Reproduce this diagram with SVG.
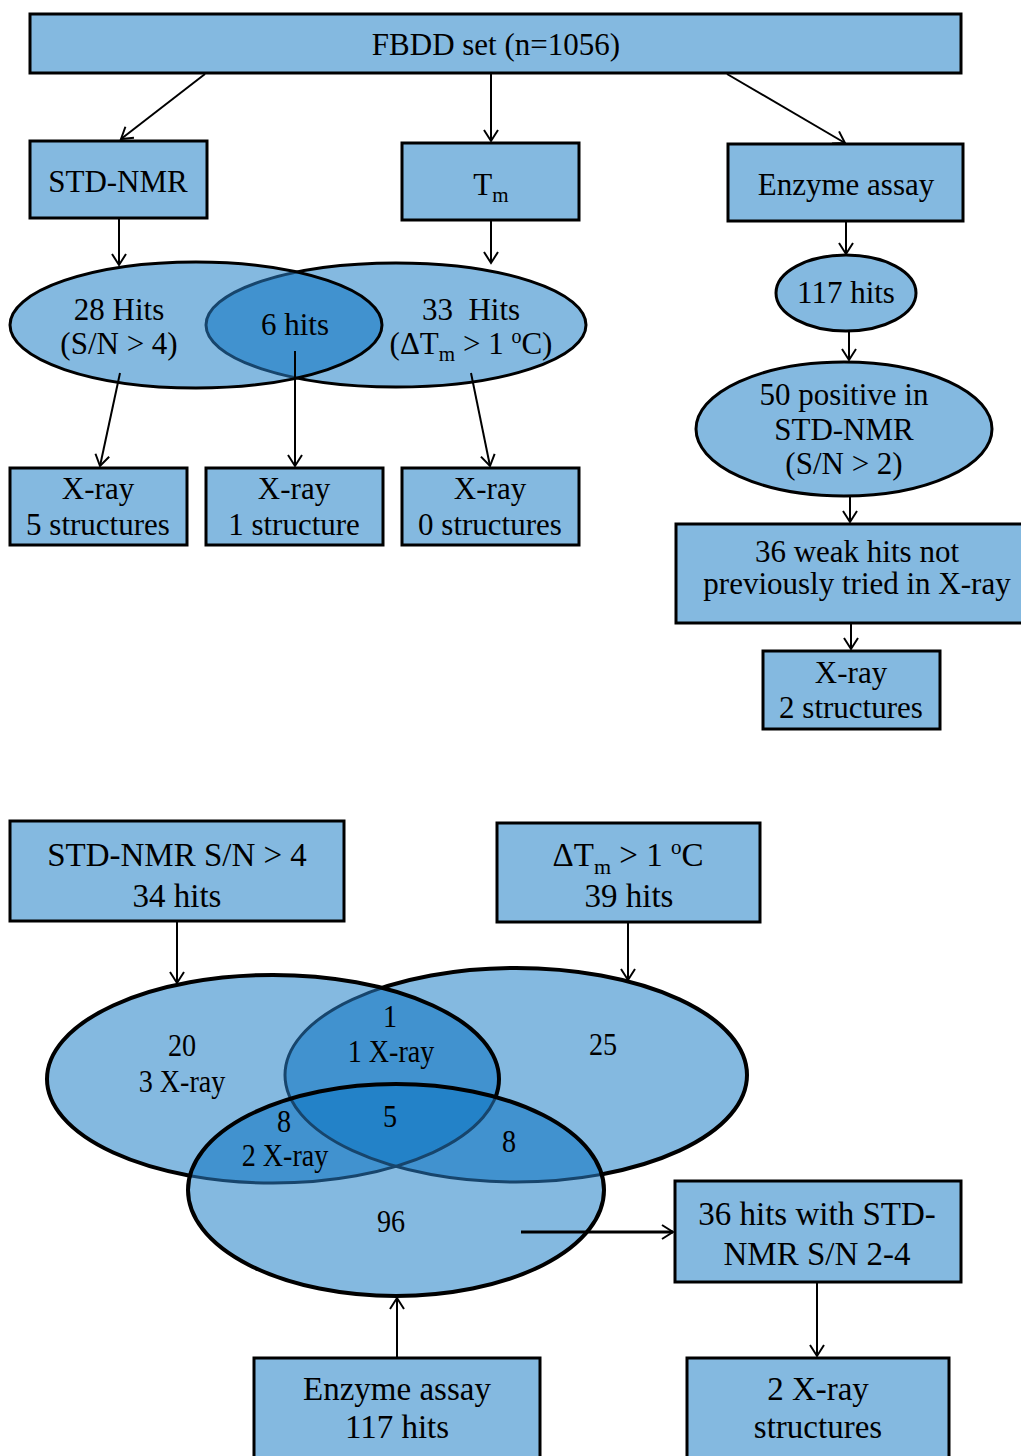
<svg xmlns="http://www.w3.org/2000/svg" width="1021" height="1456" viewBox="0 0 1021 1456" font-family="Liberation Serif, Times New Roman, DejaVu Serif, serif">
<style>
.box{fill:#84B9E0;stroke:#000;stroke-width:3}
.lt{fill:#84B9E0}
.md{fill:#4192CF}
.dk{fill:#2382C8}
.bk3{fill:none;stroke:#000;stroke-width:3}
.bk4{fill:none;stroke:#000;stroke-width:4}
.nv{fill:none;stroke:#17456C;stroke-width:3}
text{font-family:'Liberation Serif','Times New Roman','DejaVu Serif',serif}
.t{text-anchor:middle;fill:#000}
.s31{font-size:31px}
.s33{font-size:33px}
.s32{font-size:32px}
.con line{stroke:#000;stroke-width:2;marker-end:url(#ah)}
</style>
<defs>
<marker id="ah" markerUnits="userSpaceOnUse" markerWidth="18" markerHeight="18" refX="14" refY="8" orient="auto">
<path d="M3,1 L14,8 L3,15" fill="none" stroke="#000" stroke-width="2"/>
</marker>
<clipPath id="cTL"><ellipse cx="196" cy="325" rx="186" ry="63"/></clipPath>
<clipPath id="cBL"><ellipse cx="273" cy="1079" rx="226" ry="104"/></clipPath>
<clipPath id="cBB"><ellipse cx="396" cy="1190" rx="208" ry="106"/></clipPath>
</defs>

<!-- Top section nodes -->
<g id="fbdd">
<rect class="box" x="30" y="14" width="931" height="59"/>
<text class="t s31" x="496" y="55">FBDD set (n=1056)</text>
</g>
<g id="std-nmr">
<rect class="box" x="30" y="141" width="177" height="77"/>
<text class="t s31" x="118" y="192">STD-NMR</text>
</g>
<g id="tm">
<rect class="box" x="402" y="143" width="177" height="77"/>
<text class="t s31" x="491" y="195">T<tspan font-size="21" dy="7">m</tspan></text>
</g>
<g id="enzyme">
<rect class="box" x="728" y="144" width="235" height="77"/>
<text class="t s31" x="846" y="195">Enzyme assay</text>
</g>

<!-- Top Venn -->
<g id="venn-top">
<ellipse class="lt" cx="396" cy="325" rx="190" ry="62"/>
<ellipse class="bk3" cx="396" cy="325" rx="190" ry="62"/>
<ellipse class="lt" cx="196" cy="325" rx="186" ry="63"/>
<g clip-path="url(#cTL)">
<ellipse class="md" cx="396" cy="325" rx="190" ry="62"/>
<ellipse class="nv" cx="396" cy="325" rx="190" ry="62"/>
</g>
<ellipse class="bk3" cx="196" cy="325" rx="186" ry="63"/>
</g>
<g id="hits28">
<text class="t s31" x="119" y="320">28 Hits</text>
<text class="t s31" x="119" y="354">(S/N &gt; 4)</text>
</g>
<g id="hits6">
<text class="t s31" x="295" y="335">6 hits</text>
</g>
<g id="hits33">
<text class="t s31" x="471" y="320" xml:space="preserve">33  Hits</text>
<text class="t s31" x="471" y="354">(ΔT<tspan font-size="21" dy="7">m</tspan><tspan dy="-7"> &gt; 1 </tspan><tspan font-size="20" dy="-11">o</tspan><tspan dy="11">C)</tspan></text>
</g>

<g id="xray5">
<rect class="box" x="10" y="468" width="177" height="77"/>
<text class="t s31" x="98" y="499">X-ray</text>
<text class="t s31" x="98" y="535">5 structures</text>
</g>
<g id="xray1">
<rect class="box" x="206" y="468" width="177" height="77"/>
<text class="t s31" x="294" y="499">X-ray</text>
<text class="t s31" x="294" y="535">1 structure</text>
</g>
<g id="xray0">
<rect class="box" x="402" y="468" width="177" height="77"/>
<text class="t s31" x="490" y="499">X-ray</text>
<text class="t s31" x="490" y="535">0 structures</text>
</g>

<!-- Right column -->
<g id="hits117">
<ellipse class="lt" cx="846" cy="293" rx="70" ry="38"/>
<ellipse class="bk3" cx="846" cy="293" rx="70" ry="38"/>
<text class="t s31" x="846" y="303">117 hits</text>
</g>
<g id="pos50">
<ellipse class="lt" cx="844" cy="429" rx="148" ry="67"/>
<ellipse class="bk3" cx="844" cy="429" rx="148" ry="67"/>
<text class="t s31" x="844" y="405">50 positive in</text>
<text class="t s31" x="844" y="440">STD-NMR</text>
<text class="t s31" x="844" y="474">(S/N &gt; 2)</text>
</g>
<g id="weak36">
<rect class="box" x="676" y="524" width="364" height="99"/>
<text class="t s31" x="857" y="562">36 weak hits not</text>
<text class="t s31" x="857" y="594">previously tried in X-ray</text>
</g>
<g id="xray2">
<rect class="box" x="763" y="651" width="177" height="78"/>
<text class="t s31" x="851" y="683">X-ray</text>
<text class="t s31" x="851" y="718">2 structures</text>
</g>

<!-- Bottom section boxes -->
<g id="std-box">
<rect class="box" x="10" y="821" width="334" height="100"/>
<text class="t s33" x="177" y="866">STD-NMR S/N &gt; 4</text>
<text class="t s33" x="177" y="907">34 hits</text>
</g>
<g id="tm-box">
<rect class="box" x="497" y="823" width="263" height="99"/>
<text class="t s33" x="628" y="866">ΔT<tspan font-size="22" dy="8">m</tspan><tspan dy="-8"> &gt; 1 </tspan><tspan font-size="21" dy="-12">o</tspan><tspan dy="12">C</tspan></text>
<text class="t s33" x="629" y="907">39 hits</text>
</g>

<!-- Bottom Venn -->
<g id="venn-bottom">
<ellipse class="lt" cx="516" cy="1075" rx="231" ry="107"/>
<ellipse class="bk4" cx="516" cy="1075" rx="231" ry="107"/>
<ellipse class="lt" cx="273" cy="1079" rx="226" ry="104"/>
<g clip-path="url(#cBL)">
<ellipse class="md" cx="516" cy="1075" rx="231" ry="107"/>
<ellipse class="nv" cx="516" cy="1075" rx="231" ry="107"/>
</g>
<ellipse class="bk4" cx="273" cy="1079" rx="226" ry="104"/>
<ellipse class="lt" cx="396" cy="1190" rx="208" ry="106"/>
<g clip-path="url(#cBB)">
<ellipse class="md" cx="273" cy="1079" rx="226" ry="104"/>
<ellipse class="md" cx="516" cy="1075" rx="231" ry="107"/>
<g clip-path="url(#cBL)">
<ellipse class="dk" cx="516" cy="1075" rx="231" ry="107"/>
</g>
<ellipse class="nv" cx="273" cy="1079" rx="226" ry="104"/>
<ellipse class="nv" cx="516" cy="1075" rx="231" ry="107"/>
</g>
<ellipse class="bk4" cx="396" cy="1190" rx="208" ry="106"/>
</g>
<g id="v20"><text class="t s32" transform="translate(182 1056) scale(0.88 1)">20</text><text class="t s32" transform="translate(182 1092) scale(0.88 1)">3 X-ray</text></g>
<g id="v1"><text class="t s32" transform="translate(390 1027) scale(0.88 1)">1</text><text class="t s32" transform="translate(391 1062) scale(0.88 1)">1 X-ray</text></g>
<g id="v25"><text class="t s32" transform="translate(603 1055) scale(0.88 1)">25</text></g>
<g id="v8a"><text class="t s32" transform="translate(284 1132) scale(0.88 1)">8</text><text class="t s32" transform="translate(285 1166) scale(0.88 1)">2 X-ray</text></g>
<g id="v5"><text class="t s32" transform="translate(390 1127) scale(0.88 1)">5</text></g>
<g id="v8b"><text class="t s32" transform="translate(509 1152) scale(0.88 1)">8</text></g>
<g id="v96"><text class="t s32" transform="translate(391 1232) scale(0.88 1)">96</text></g>

<g id="hits36">
<rect class="box" x="675" y="1181" width="286" height="101"/>
<text class="t s33" x="817" y="1225">36 hits with STD-</text>
<text class="t s33" x="817" y="1265">NMR S/N 2-4</text>
</g>
<g id="enz-box">
<rect class="box" x="254" y="1358" width="286" height="110"/>
<text class="t s33" x="397" y="1400">Enzyme assay</text>
<text class="t s33" x="397" y="1438">117 hits</text>
</g>
<g id="xray-struct">
<rect class="box" x="687" y="1358" width="262" height="110"/>
<text class="t s33" x="818" y="1400">2 X-ray</text>
<text class="t s33" x="818" y="1438">structures</text>
</g>

<!-- Connectors -->
<g id="connectors" class="con">
<line x1="205" y1="74" x2="121" y2="139"/>
<line x1="491" y1="74" x2="491" y2="141"/>
<line x1="727" y1="74" x2="845" y2="143"/>
<line x1="119" y1="219" x2="119" y2="265"/>
<line x1="491" y1="221" x2="491" y2="263"/>
<line x1="846" y1="222" x2="846" y2="254"/>
<line x1="120" y1="373" x2="100" y2="466"/>
<line x1="295" y1="351" x2="295" y2="466"/>
<line x1="471" y1="373" x2="490" y2="466"/>
<line x1="849" y1="331" x2="849" y2="360"/>
<line x1="850" y1="497" x2="850" y2="522"/>
<line x1="851" y1="624" x2="851" y2="649"/>
<line x1="177" y1="922" x2="177" y2="983"/>
<line x1="628" y1="923" x2="628" y2="980"/>
<line x1="521" y1="1232" x2="673" y2="1232" style="stroke-width:3"/>
<line x1="817" y1="1283" x2="817" y2="1356"/>
<line x1="397" y1="1357" x2="397" y2="1298"/>
</g>
</svg>
